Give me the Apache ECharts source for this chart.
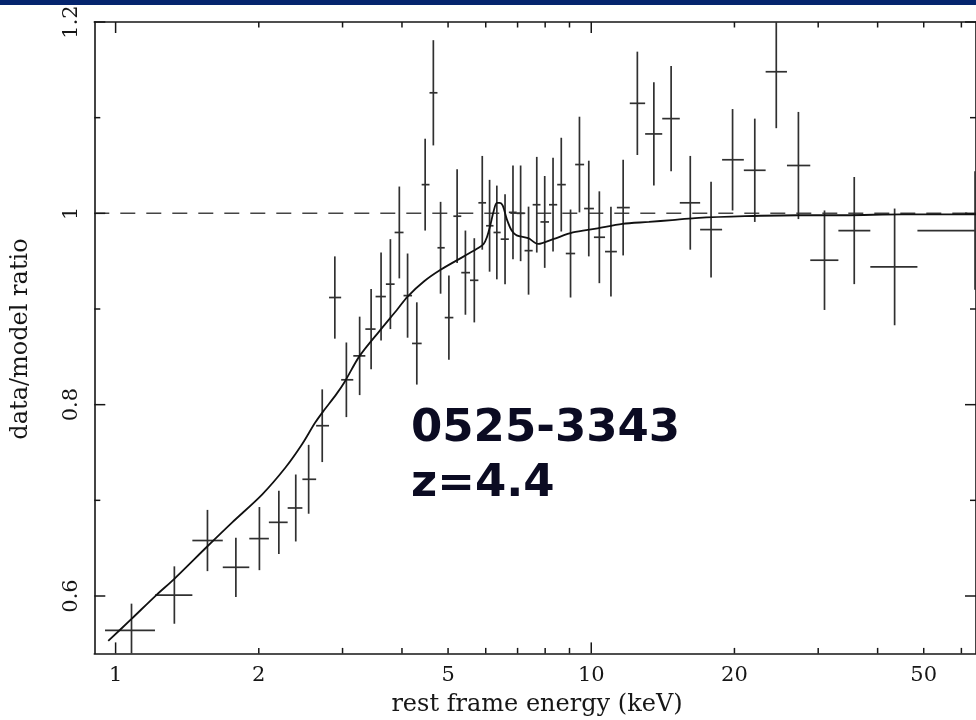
<!DOCTYPE html>
<html><head><meta charset="utf-8">
<script src="https://cdn.jsdelivr.net/npm/echarts@6/dist/echarts.min.js"></script>
<style>html,body{margin:0;padding:0;background:#fff}#c{width:976px;height:720px}</style>
</head><body><div id="c"></div>
<script>
// ---- data ----
const energy = [1.080, 1.329, 1.560, 1.790, 2.006, 2.204, 2.392, 2.546, 2.719, 2.890,
  3.056, 3.259, 3.445, 3.615, 3.782, 3.949, 4.110, 4.298, 4.475, 4.656,
  4.822, 5.020, 5.224, 5.438, 5.677, 5.900, 6.113, 6.331, 6.588, 6.846,
  7.104, 7.382, 7.682, 7.983, 8.311, 8.649, 9.046, 9.445, 9.881, 10.40,
  11.00, 11.67, 12.50, 13.54, 14.72, 16.15, 17.86, 19.82, 22.07, 24.49,
  27.26, 30.93, 35.72, 43.43, 64.1];
const binEdges = [0.95, 1.21, 1.45, 1.68, 1.91, 2.10, 2.30, 2.47, 2.64, 2.81,
  2.98, 3.16, 3.35, 3.52, 3.70, 3.86, 4.03, 4.20, 4.40, 4.57,
  4.75, 4.92, 5.13, 5.33, 5.56, 5.79, 6.01, 6.23, 6.45, 6.71,
  6.97, 7.24, 7.53, 7.82, 8.15, 8.48, 8.84, 9.25, 9.66, 10.13,
  10.69, 11.32, 12.05, 12.98, 14.10, 15.35, 16.94, 18.84, 20.93, 23.26,
  25.79, 28.87, 33.08, 38.61, 48.5, 84.6];
const ratio = [0.564, 0.601, 0.658, 0.630, 0.660, 0.677, 0.692, 0.722, 0.778, 0.912,
  0.826, 0.851, 0.879, 0.913, 0.926, 0.980, 0.914, 0.864, 1.030, 1.126,
  0.964, 0.891, 0.997, 0.938, 0.930, 1.011, 0.987, 0.980, 0.973, 1.001,
  1.000, 0.961, 1.009, 0.991, 1.009, 1.030, 0.958, 1.051, 1.005, 0.975,
  0.960, 1.006, 1.115, 1.083, 1.099, 1.011, 0.983, 1.056, 1.045, 1.148,
  1.050, 0.951, 0.982, 0.944, 0.982];
const ratioErr = [0.028, 0.030, 0.032, 0.031, 0.033, 0.033, 0.035, 0.036, 0.038, 0.043,
  0.039, 0.041, 0.042, 0.046, 0.047, 0.048, 0.044, 0.043, 0.048, 0.055,
  0.048, 0.044, 0.049, 0.044, 0.044, 0.049, 0.048, 0.049, 0.047, 0.049,
  0.050, 0.046, 0.050, 0.048, 0.049, 0.049, 0.046, 0.050, 0.050, 0.048,
  0.047, 0.050, 0.054, 0.054, 0.055, 0.049, 0.050, 0.053, 0.054, 0.059,
  0.056, 0.052, 0.056, 0.061, 0.062];
const modelEnergy = [0.965, 1.080, 1.218, 1.329, 1.560, 1.759, 2.032, 2.274, 2.462, 2.626,
  2.732, 2.912, 3.032, 3.259, 3.615, 3.917, 4.110, 4.453, 4.822, 5.396,
  5.799, 5.939, 6.034, 6.131, 6.232, 6.331, 6.414, 6.516, 6.643, 6.804,
  6.969, 7.371, 7.734, 8.311, 9.148, 10.23, 11.63, 13.22, 14.79, 16.54,
  21.03, 27.17, 34.0, 45.0, 64.4];
const modelRatio = [0.553, 0.576, 0.601, 0.618, 0.652, 0.677, 0.706, 0.734, 0.758, 0.781,
  0.793, 0.811, 0.824, 0.851, 0.879, 0.900, 0.913, 0.929, 0.941, 0.955,
  0.964, 0.968, 0.975, 0.987, 1.002, 1.011, 1.011, 1.008, 0.994, 0.982,
  0.977, 0.974, 0.968, 0.973, 0.980, 0.984, 0.989, 0.991, 0.993, 0.995,
  0.997, 0.998, 0.998, 0.999, 0.999];
const referenceLevel = [1.0, 1.0];
const xTickValues = [1, 2, 3, 4, 5, 6, 7, 8, 9, 10, 20, 30, 40, 50, 60];
const xMajorTicks = [1, 10];
const xTickLabels = ['1', '2', '5', '10', '20', '50'];
const yTickValues = [0.6, 0.7, 0.8, 0.9, 1.0, 1.1, 1.2];
const yMajorTicks = [0.6, 0.8, 1.0, 1.2];
const yTickLabels = ['0.6', '0.8', '1', '1.2'];
const xTitle = 'rest frame energy (keV)';
const yTitle = 'data/model ratio';
const noteLines = ['0525-3343', 'z=4.4'];

const X_MIN = 0.902, X_MAX = 64.4, Y_MIN = 0.54, Y_MAX = 1.2;
const INK = '#161616';
const LABEL_FONT = '21px "DejaVu Serif"';
const TITLE_FONT = '24px "DejaVu Serif"';
const NOTE_FONT = 'bold 45px "DejaVu Sans"';

const chart = echarts.init(document.getElementById('c'), null, {renderer: 'canvas'});

function xTickRender(params, api) {
  const v = api.value(0);
  const L = xMajorTicks.indexOf(v) >= 0 ? 11 : 5.5;
  const b = api.coord([v, Y_MIN]);
  const t = api.coord([v, Y_MAX]);
  return {type: 'group', children: [
    {type: 'line', shape: {x1: b[0], y1: b[1], x2: b[0], y2: b[1] - L}, style: {stroke: INK, lineWidth: 1.5}},
    {type: 'line', shape: {x1: t[0], y1: t[1], x2: t[0], y2: t[1] + L}, style: {stroke: INK, lineWidth: 1.5}}
  ]};
}
function yTickRender(params, api) {
  const v = api.value(1);
  const L = yMajorTicks.some(m => Math.abs(m - v) < 1e-9) ? 11 : 6;
  const l = api.coord([X_MIN, v]);
  const r = api.coord([X_MAX, v]);
  return {type: 'group', children: [
    {type: 'line', shape: {x1: l[0], y1: l[1], x2: l[0] + L, y2: l[1]}, style: {stroke: INK, lineWidth: 1.5}},
    {type: 'line', shape: {x1: r[0], y1: r[1], x2: r[0] - L, y2: r[1]}, style: {stroke: INK, lineWidth: 1.5}}
  ]};
}
function xLabelRender(params, api) {
  const p = api.coord([api.value(0), Y_MIN]);
  return {type: 'text', x: p[0], y: p[1] + 22,
    style: {text: xTickLabels[params.dataIndex], font: LABEL_FONT, fill: INK, align: 'center', verticalAlign: 'middle'}};
}
function yLabelRender(params, api) {
  const p = api.coord([X_MIN, api.value(1)]);
  return {type: 'text', x: p[0] - 23, y: p[1], rotation: Math.PI / 2,
    style: {text: yTickLabels[params.dataIndex], font: LABEL_FONT, fill: INK, align: 'center', verticalAlign: 'middle'}};
}
function errRender(params, api) {
  const e = api.value(0), r = api.value(1), lo = api.value(2), hi = api.value(3), er = api.value(4);
  const c = api.coord([e, r]);
  const pl = api.coord([lo, r]), ph = api.coord([hi, r]);
  const pt = api.coord([e, r + er]), pb = api.coord([e, r - er]);
  const cs = params.coordSys;
  const box = {x: cs.x, y: cs.y, width: cs.width, height: cs.height};
  const w = 1.7;
  const hr = echarts.graphic.clipRectByRect({x: pl[0], y: c[1] - w / 2, width: ph[0] - pl[0], height: w}, box);
  const vr = echarts.graphic.clipRectByRect({x: c[0] - w / 2, y: pt[1], width: w, height: pb[1] - pt[1]}, box);
  const children = [];
  if (hr) children.push({type: 'rect', shape: hr, style: {fill: '#303030'}});
  if (vr) children.push({type: 'rect', shape: vr, style: {fill: '#303030'}});
  return {type: 'group', children: children};
}

const axisLine = {show: true, onZero: false, lineStyle: {color: INK, width: 1.6}};
const xBase = {type: 'log', logBase: 10, min: X_MIN, max: X_MAX, axisLine: axisLine,
  axisTick: {show: false}, axisLabel: {show: false}, splitLine: {show: false}, minorTick: {show: false}};
const yBase = {type: 'value', min: Y_MIN, max: Y_MAX, axisLine: axisLine,
  axisTick: {show: false}, axisLabel: {show: false}, splitLine: {show: false}};

chart.setOption({
  animation: false,
  backgroundColor: '#ffffff',
  grid: {left: 94.3, top: 22, width: 888.8, height: 631.4, containLabel: false},
  xAxis: [Object.assign({position: 'bottom'}, xBase), Object.assign({position: 'top'}, xBase)],
  yAxis: [Object.assign({position: 'left'}, yBase), Object.assign({position: 'right'}, yBase)],
  series: [
    {type: 'line', name: 'unity', data: [[X_MIN, referenceLevel[0]], [X_MAX, referenceLevel[1]]],
      showSymbol: false, silent: true, lineStyle: {color: '#444', width: 1.5, type: [15, 11]}, z: 2},
    {type: 'custom', name: 'data', coordinateSystem: 'cartesian2d', renderItem: errRender, silent: true, z: 3,
      data: energy.map((e, i) => [e, ratio[i], binEdges[i], binEdges[i + 1], ratioErr[i]])},
    {type: 'line', name: 'model', data: modelEnergy.map((e, i) => [e, modelRatio[i]]),
      showSymbol: false, silent: true, smooth: 0.3, clip: true, lineStyle: {color: '#111', width: 1.8}, z: 4},
    {type: 'custom', coordinateSystem: 'cartesian2d', renderItem: xTickRender, silent: true, z: 6,
      data: xTickValues.map(v => [v, Y_MIN])},
    {type: 'custom', coordinateSystem: 'cartesian2d', renderItem: yTickRender, silent: true, z: 6,
      data: yTickValues.map(v => [X_MIN, v])},
    {type: 'custom', coordinateSystem: 'cartesian2d', renderItem: xLabelRender, silent: true, z: 6,
      data: xTickLabels.map(s => [parseFloat(s), Y_MIN])},
    {type: 'custom', coordinateSystem: 'cartesian2d', renderItem: yLabelRender, silent: true, z: 6,
      data: yTickLabels.map(s => [X_MIN, parseFloat(s)])}
  ],
  graphic: [
    {type: 'rect', shape: {x: 0, y: 0, width: 976, height: 5}, style: {fill: '#05256e'}, z: 100},
    {type: 'text', x: 537, y: 705, style: {text: xTitle, font: TITLE_FONT, fill: INK, align: 'center', verticalAlign: 'middle'}},
    {type: 'text', x: 21, y: 339, rotation: Math.PI / 2, style: {text: yTitle, font: TITLE_FONT, fill: INK, align: 'center', verticalAlign: 'middle'}},
    {type: 'text', x: 411, y: 429, style: {text: noteLines[0], font: NOTE_FONT, fill: '#0b0b22', align: 'left', verticalAlign: 'middle'}},
    {type: 'text', x: 411, y: 484, style: {text: noteLines[1], font: NOTE_FONT, fill: '#0b0b22', align: 'left', verticalAlign: 'middle'}}
  ]
});
</script></body></html>
